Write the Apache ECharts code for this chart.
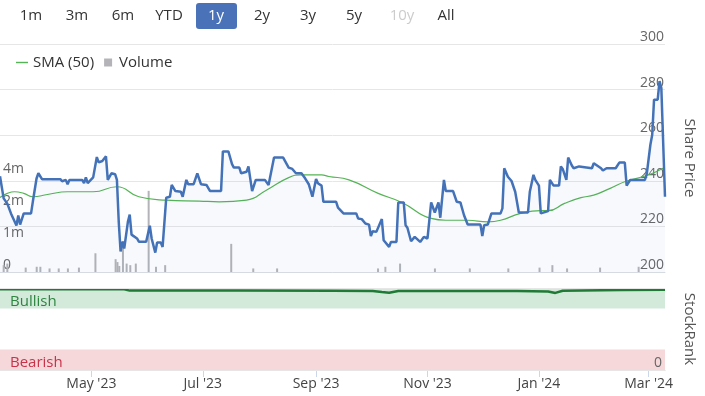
<!DOCTYPE html>
<html><head><meta charset="utf-8">
<script src="https://cdn.jsdelivr.net/npm/echarts@6/dist/echarts.min.js"></script>
<style>html,body{margin:0;padding:0;background:#fff}#c{width:705px;height:396px}</style>
</head><body><div id="c"></div>
<script>
const priceDates = ['2023-03-12','2023-03-14','2023-03-16','2023-03-18','2023-03-21','2023-03-22','2023-03-23','2023-03-25','2023-03-29','2023-03-30',
'2023-04-01','2023-04-02','2023-04-04','2023-04-14','2023-04-15','2023-04-17','2023-04-18','2023-04-19','2023-04-26','2023-04-27','2023-04-28','2023-04-29',
'2023-05-02','2023-05-04','2023-05-05','2023-05-07','2023-05-09','2023-05-10','2023-05-12','2023-05-14','2023-05-15','2023-05-16','2023-05-17','2023-05-18','2023-05-19','2023-05-21','2023-05-22','2023-05-23','2023-05-26','2023-05-27','2023-05-31',
'2023-06-02','2023-06-03','2023-06-05','2023-06-06','2023-06-08','2023-06-09','2023-06-11','2023-06-13','2023-06-14','2023-06-16','2023-06-19','2023-06-20','2023-06-22','2023-06-23','2023-06-26','2023-06-28','2023-06-30',
'2023-07-03','2023-07-05','2023-07-11','2023-07-12','2023-07-15','2023-07-17','2023-07-18','2023-07-21','2023-07-22','2023-07-25','2023-07-26','2023-07-28','2023-07-30',
'2023-08-04','2023-08-06','2023-08-09','2023-08-14','2023-08-17','2023-08-19','2023-08-21','2023-08-24','2023-08-26','2023-08-28','2023-08-30',
'2023-09-01','2023-09-02','2023-09-04','2023-09-05','2023-09-12','2023-09-13','2023-09-14','2023-09-16','2023-09-23','2023-09-24','2023-09-26','2023-09-28','2023-09-30',
'2023-10-01','2023-10-02','2023-10-04','2023-10-07','2023-10-08','2023-10-09','2023-10-11','2023-10-12','2023-10-15','2023-10-16','2023-10-19','2023-10-20','2023-10-21','2023-10-23','2023-10-25','2023-10-26','2023-10-28','2023-10-30',
'2023-11-01','2023-11-03','2023-11-05','2023-11-07','2023-11-08','2023-11-10','2023-11-11','2023-11-15','2023-11-17','2023-11-19','2023-11-21','2023-11-23','2023-11-30',
'2023-12-01','2023-12-02','2023-12-04','2023-12-06','2023-12-11','2023-12-12','2023-12-13','2023-12-15','2023-12-17','2023-12-19','2023-12-21','2023-12-26','2023-12-27','2023-12-29','2023-12-30',
'2024-01-01','2024-01-02','2024-01-06','2024-01-07','2024-01-09','2024-01-12','2024-01-13','2024-01-14','2024-01-16','2024-01-17','2024-01-19','2024-01-20','2024-01-23','2024-01-24','2024-01-30','2024-01-31',
'2024-02-01','2024-02-04','2024-02-05','2024-02-07','2024-02-12','2024-02-14','2024-02-17','2024-02-18','2024-02-20','2024-02-28','2024-02-29',
'2024-03-02','2024-03-03','2024-03-04','2024-03-06','2024-03-07','2024-03-08','2024-03-10'];
const priceValues = [242,232.3,230,225.7,220.4,224.8,220.8,225.7,225.7,231,
241,243.3,240.7,240.7,239.8,240.4,238.5,240.4,240.4,239,241.5,239,
241.5,250.4,248.1,248.7,250.7,240.4,243.3,242.9,240.4,222,209,213.3,210.3,222,225.2,216.4,214.7,213.3,213.3,
220.3,214.7,208.5,212.9,212.9,211,232.6,233,238.2,235.5,235.2,233,240.4,238.5,238.5,243.3,238.5,
238.2,235.5,235.5,252.9,252.9,247.3,245.8,245.8,243.3,244,246.3,235.5,240.4,
240.4,238.2,250.2,250.2,245.8,245.2,243.3,243.3,241.1,238.5,233,
240.8,238.9,237.9,230.8,230.8,228.2,227.9,225.7,225.7,223.5,223.2,221.3,220.8,
215.8,217.9,217.6,223.2,213.9,213.2,211,213.2,213.2,230.5,230.5,220.5,219.4,213.5,215.4,215.4,213.2,215.4,
214.7,230.5,226.1,230.5,223.8,240.4,235.5,235.5,230.8,230.5,224.9,220.8,220.8,
215.8,220.5,220.8,225.7,225.7,227.9,245.5,241.8,239.9,235.2,226.1,226.1,235.2,242.6,240.4,
237.9,225.7,226.7,240.4,237.9,237.9,246.3,245.2,240.4,250.2,246.7,245.5,246.3,245.5,245.5,247.7,
247.7,245.5,244.5,245.5,245.5,248,248,237.9,240.4,240.4,242.9,
255.8,260.2,275.6,275.6,283.7,280.7,233];

const smaDates = ['2023-03-12','2023-03-16','2023-03-20','2023-03-25','2023-03-30','2023-04-07','2023-04-18','2023-05-02','2023-05-15','2023-05-27','2023-06-11','2023-06-29','2023-07-10','2023-07-25','2023-08-05','2023-08-17','2023-08-24','2023-09-04','2023-09-08','2023-09-19','2023-10-05','2023-10-18','2023-11-03','2023-11-11','2023-11-23','2023-12-04','2023-12-11','2023-12-22','2024-01-02','2024-01-06','2024-01-15','2024-01-24','2024-01-31','2024-02-09','2024-02-18','2024-02-29','2024-03-09'];
const smaValues = [232.7,234.5,235.2,234.5,233,234,235.2,235.2,237.4,233,231.5,231.1,230.8,231.5,236,241.4,242.6,242.6,241.9,240.4,234.5,230.5,223.5,222.7,222.7,222,222.7,225.7,226.9,226.9,230.1,232.6,233.7,236.7,239.9,242.3,245.5];

// volume in millions of shares
const volumeDates = ['2023-03-14','2023-03-16','2023-03-26','2023-04-01','2023-04-03','2023-04-08','2023-04-13','2023-04-18','2023-04-24','2023-05-03','2023-05-14','2023-05-15','2023-05-16','2023-05-18','2023-05-20','2023-05-22','2023-05-25','2023-06-01','2023-06-05','2023-06-10','2023-07-16','2023-07-28','2023-08-10','2023-10-04','2023-10-08','2023-10-16','2023-11-04','2023-11-23','2023-12-14','2023-12-31','2024-01-07','2024-01-15','2024-02-02','2024-02-23'];
const volumeValues = [0.58,0.6,0.55,0.56,0.56,0.54,0.54,0.54,0.55,0.75,0.66,0.62,0.57,0.98,0.6,0.58,0.6,2.9,0.56,0.58,0.92,0.54,0.54,0.54,0.56,0.6,0.54,0.54,0.54,0.55,0.58,0.54,0.55,0.56];

const rankDates = ['2023-03-12','2023-05-19','2023-05-22','2023-07-20','2023-09-10','2023-10-02','2023-10-07','2023-10-11','2023-10-16','2023-11-20','2023-12-20','2024-01-06','2024-01-10','2024-01-14','2024-02-15','2024-03-10'];
const rankValues = [98.4,98.4,96.8,96.8,96.6,96.4,95,94.3,96.4,96.4,96.2,95.8,94,96.6,97.6,98];

const xTickDates = ['2023-05-01','2023-07-01','2023-09-01','2023-11-01','2024-01-01','2024-03-01'];
const xTickLabels = ["May '23","Jul '23","Sep '23","Nov '23","Jan '24","Mar '24"];
const rangeButtons = ['1m','3m','6m','YTD','1y','2y','3y','5y','10y','All'];
const rangeSelected = '1y';
const rangeDisabled = ['10y'];
const xStart = '2023-03-12', xEnd = '2024-03-10';

const T = s => new Date(s + 'T00:00:00').getTime();
const zip = (d, v) => d.map((s, i) => [T(s), v[i]]);
const tickTs = xTickDates.map(T);
const FONT = '"Open Sans", sans-serif';

const btnX = [31, 77, 123, 169, 216, 262, 308, 354, 402, 446];
const graphic = [];
rangeButtons.forEach((b, i) => {
  if (b === rangeSelected) {
    graphic.push({type: 'rect', shape: {x: btnX[i] - 20, y: 3, width: 41, height: 26, r: 3}, style: {fill: '#4a72b8'}});
  }
  graphic.push({type: 'text', x: btnX[i], y: 16, style: {text: b, fill: b === rangeSelected ? '#fff' : (rangeDisabled.includes(b) ? '#cccccc' : '#333'), font: '15px ' + FONT, align: 'center', verticalAlign: 'middle'}});
});

const xCommon = {type: 'value', min: T(xStart), max: T(xEnd), splitLine: {show: false}, scale: true};

const chart = echarts.init(document.getElementById('c'), null, {renderer: 'canvas'});
chart.setOption({
  animation: false,
  textStyle: {fontFamily: FONT},
  graphic,
  legend: {
    left: 11, top: 50, itemWidth: 12, itemHeight: 8, itemGap: 10,
    textStyle: {fontSize: 15, color: '#333', fontFamily: FONT},
    data: [{name: 'SMA (50)', icon: 'path://M0,0L12,0L12,1.4L0,1.4Z'},
           {name: 'Volume', icon: 'path://M0,0L10,0L10,10L0,10Z'}]
  },
  grid: [
    {left: 0, right: 37, top: 44, height: 228},
    {left: 0, right: 37, top: 176, height: 96},
    {left: 0, right: 37, top: 288, height: 82}
  ],
  xAxis: [
    Object.assign({gridIndex: 0, axisLabel: {show: false}, axisTick: {show: false}, axisLine: {lineStyle: {color: '#d6dbe3'}}}, xCommon),
    Object.assign({gridIndex: 1, show: false}, xCommon),
    Object.assign({gridIndex: 2,
      axisLine: {lineStyle: {color: '#ccd6eb'}},
      axisTick: {show: true, length: 7, lineStyle: {color: '#ccd6eb'}, customValues: tickTs},
      axisLabel: {customValues: tickTs, color: '#444', fontSize: 14, margin: 7, hideOverlap: false,
        formatter: v => { const i = tickTs.indexOf(v); return i >= 0 ? xTickLabels[i] : ''; }}
    }, xCommon)
  ],
  yAxis: [
    {gridIndex: 0, type: 'value', position: 'right', min: 200, max: 300, interval: 20,
     axisLabel: {inside: true, margin: 1, verticalAlign: 'bottom', color: '#666', fontSize: 14},
     splitLine: {lineStyle: {color: '#e6e6e6'}}, axisLine: {show: false}, axisTick: {show: false},
     name: 'Share Price', nameLocation: 'middle', nameRotate: -90, nameGap: 17,
     nameTextStyle: {color: '#555', fontSize: 15}},
    {gridIndex: 1, type: 'log', logBase: 2, min: 0.5, max: 4, position: 'left',
     axisLabel: {inside: true, margin: 3, verticalAlign: 'bottom', color: '#666', fontSize: 14,
       formatter: v => v < 0.75 ? '0' : Math.round(v) + 'm'},
     splitLine: {show: false}, axisLine: {show: false}, axisTick: {show: false}},
    {gridIndex: 2, type: 'value', position: 'right', min: 0, max: 100, interval: 100, z: 10,
     axisLabel: {inside: true, margin: 3, verticalAlign: 'bottom', color: '#666', fontSize: 14,
       showMinLabel: true, customValues: [0], formatter: v => String(v)},
     splitLine: {lineStyle: {color: '#e6e6e6'}}, axisLine: {show: false}, axisTick: {show: false},
     name: 'StockRank', nameLocation: 'middle', nameRotate: -90, nameGap: 17,
     nameTextStyle: {color: '#555', fontSize: 15}}
  ],
  series: [
    {name: 'Volume', type: 'custom', xAxisIndex: 1, yAxisIndex: 1, z: 1, clip: true,
     itemStyle: {color: '#b4b4b8'},
     data: zip(volumeDates, volumeValues),
     encode: {x: 0, y: 1},
     renderItem: (params, api) => {
       const top = api.coord([api.value(0), api.value(1)]);
       const base = api.coord([api.value(0), 0.5]);
       return {type: 'rect', shape: {x: top[0] - 1, y: top[1], width: 2, height: base[1] - top[1]},
               style: {fill: '#b4b4b8'}};
     }},
    {name: 'Share Price', type: 'line', xAxisIndex: 0, yAxisIndex: 0, z: 3, symbol: 'none',
     data: zip(priceDates, priceValues),
     lineStyle: {color: '#4472b8', width: 2.5},
     itemStyle: {color: '#4472b8'},
     areaStyle: {color: 'rgba(68,114,184,0.06)', origin: 'start'}},
    {name: 'SMA (50)', type: 'line', xAxisIndex: 0, yAxisIndex: 0, z: 2, symbol: 'none', smooth: true,
     data: zip(smaDates, smaValues),
     lineStyle: {color: '#55b455', width: 1.2},
     itemStyle: {color: '#55b455'}},
    {name: 'StockRank', type: 'line', xAxisIndex: 2, yAxisIndex: 2, z: 3, symbol: 'none',
     data: zip(rankDates, rankValues),
     lineStyle: {color: '#1f7a35', width: 2.5},
     itemStyle: {color: '#1f7a35'},
     markArea: {silent: true, data: [
       [{yAxis: 75, name: 'Bullish', itemStyle: {color: '#d3e9da'}, label: {color: '#2e8540'}}, {yAxis: 100}],
       [{yAxis: 0, name: 'Bearish', itemStyle: {color: '#f6d8db'}, label: {color: '#c8334a'}}, {yAxis: 25}]
     ], label: {show: true, position: 'insideLeft', fontSize: 15, offset: [5, 3], fontFamily: FONT}}}
  ]
});
</script></body></html>
